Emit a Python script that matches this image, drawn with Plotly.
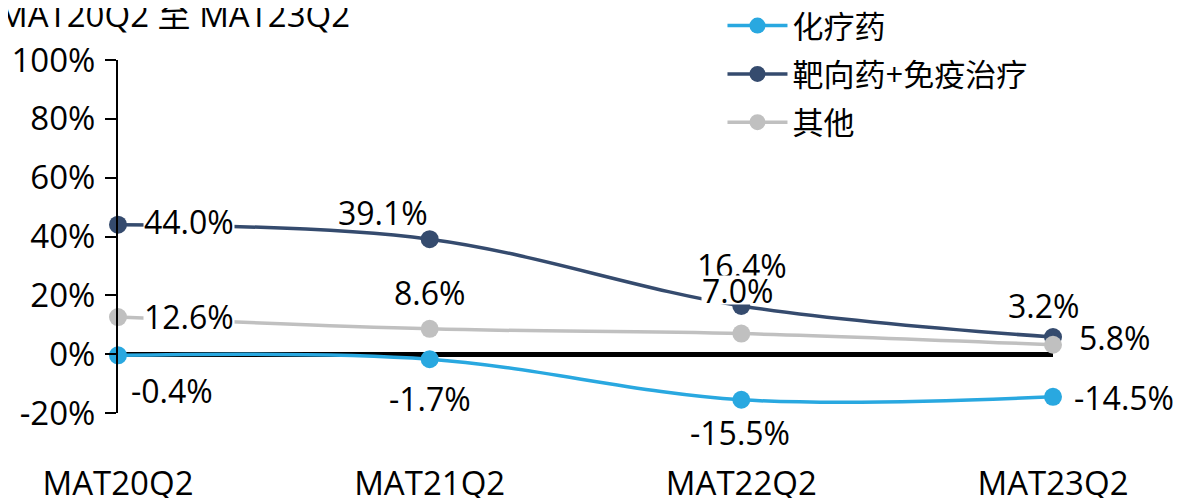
import plotly.graph_objects as go

categories = ["MAT20Q2", "MAT21Q2", "MAT22Q2", "MAT23Q2"]
chemo = [-0.4, -1.7, -15.5, -14.5]
targeted = [44.0, 39.1, 16.4, 5.8]
others = [12.6, 8.6, 7.0, 3.2]
yticks = [-20, 0, 20, 40, 60, 80, 100]
ytick_labels = [f"{v}%" for v in yticks]
title_text = "MAT20Q2 至 MAT23Q2"

FONT = "Open Sans, Noto Sans CJK SC, sans-serif"
FS_LEG = 31
FS_LBL = 32
FS_AX = 33

series = [
    ("化疗药", chemo, "#29A8E0"),
    ("靶向药+免疫治疗", targeted, "#354B6E"),
    ("其他", others, "#C0C0C0"),
]

fig = go.Figure()
for i, (name, vals, color) in enumerate(series):
    fig.add_trace(go.Scatter(
        x=categories, y=vals, name=name, mode="lines+markers",
        line=dict(color=color, width=3.5, shape="spline", smoothing=1),
        marker=dict(color=color, size=18),
        cliponaxis=False, legendgroup=f"g{i}",
    ))

# label placement: (xanchor, xshift, yshift) per point
label_pos = {
    "靶向药+免疫治疗": [("left", 25, 4), ("center", -47, 27), ("center", 1, 41), ("left", 25, 0)],
    "其他": [("left", 25, 1), ("center", 0, 37), ("center", -4, 44), ("center", -10, 40)],
    "化疗药": [("left", 12, -35), ("center", 0, -39), ("center", -1, -32), ("left", 20, 0)],
}
order = ["靶向药+免疫治疗", "其他", "化疗药"]
lookup = {n: v for n, v, c in series}
for name in order:
    vals = lookup[name]
    for cat, v, (xa, xs, ys) in zip(categories, vals, label_pos[name]):
        fig.add_annotation(
            x=cat, y=v, xref="x", yref="y", text=f"{v:.1f}%",
            showarrow=False, xanchor=xa, yanchor="middle",
            xshift=xs, yshift=ys, bgcolor="white", borderpad=0,
            height=28, valign="middle",
            font=dict(family=FONT, size=FS_LBL, color="black"),
        )

fig.add_annotation(
    x=0, y=1.130, xref="paper", yref="paper", text=title_text,
    showarrow=False, xanchor="left", yanchor="middle", xshift=-122,
    font=dict(family=FONT, size=FS_AX, color="black"),
)

fig.update_layout(
    width=1179, height=490,
    margin=dict(l=110, r=134, t=52, b=85, autoexpand=False),
    plot_bgcolor="white", paper_bgcolor="white",
    font=dict(family=FONT, size=FS_AX, color="black"),
    showlegend=True,
    legend=dict(x=0.6465, y=1.173, xanchor="left", yanchor="top",
                font=dict(family=FONT, size=FS_LEG), bgcolor="rgba(0,0,0,0)",
                tracegroupgap=5, itemwidth=60),
    xaxis=dict(type="category", range=[0, 3], showline=False, showgrid=False,
               zeroline=False, ticks="", ticklabelstandoff=48,
               tickfont=dict(family=FONT, size=FS_AX)),
    yaxis=dict(range=[-20, 100], tickvals=yticks, ticktext=ytick_labels,
               showline=True, linecolor="black", linewidth=2,
               ticks="outside", ticklen=11, tickwidth=2, tickcolor="black",
               showgrid=False, zeroline=True, zerolinecolor="black",
               zerolinewidth=5, ticklabelstandoff=3,
               tickfont=dict(family=FONT, size=FS_AX)),
)

fig.write_html("out.html")
